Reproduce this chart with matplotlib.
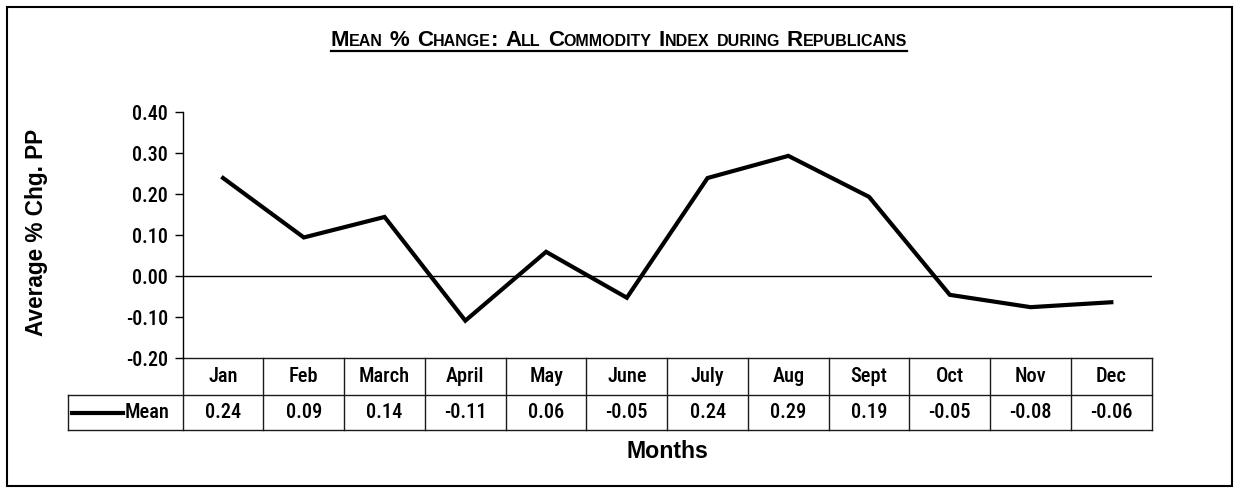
import matplotlib
matplotlib.use("Agg")
import matplotlib.pyplot as plt
import matplotlib.font_manager as fm
from matplotlib.lines import Line2D
from matplotlib.patches import Rectangle

months = ["Jan", "Feb", "March", "April", "May", "June", "July", "Aug", "Sept", "Oct", "Nov", "Dec"]
mean_values = [0.239, 0.094, 0.144, -0.109, 0.059, -0.053, 0.239, 0.293, 0.193, -0.046, -0.076, -0.064]
series_name = "Mean"
y_ticks = [-0.20, -0.10, 0.00, 0.10, 0.20, 0.30, 0.40]
title_text = "Mean % Change: All Commodity Index during Republicans"
y_label = "Average % Chg. PP"
x_label = "Months"

W, H = 1238, 491
DPI = 100
fig = plt.figure(figsize=(W / DPI, H / DPI), dpi=DPI)
renderer = fig.canvas.get_renderer()

# ---- pick a narrow sans font if one is installed ----
entries = fm.fontManager.ttflist
def is_cond(e):
    return (str(e.stretch) in ("condensed", "semi-condensed", "extra-condensed", "ultra-condensed")
            or "Narrow" in e.name or "Condensed" in e.name)
cond_names = {}
for e in entries:
    if is_cond(e):
        cond_names.setdefault(e.name, str(e.stretch))
narrow_family, narrow_stretch = "Liberation Sans", "normal"
for cand in ["Liberation Sans Narrow", "Arial Narrow", "Roboto Condensed", "Open Sans Condensed",
             "Noto Sans Condensed", "Noto Sans", "Open Sans", "DejaVu Sans"]:
    if cand in cond_names:
        narrow_family = cand
        narrow_stretch = "normal" if ("Narrow" in cand or "Condensed" in cand) else "condensed"
        break
NARROW = [narrow_family, "Liberation Sans", "DejaVu Sans"]
WIDE = ["Liberation Sans", "DejaVu Sans"]
# use a medium weight when the narrow family has one
weights = {e.weight for e in entries if e.name == narrow_family}
NW = 500 if any(str(w) in ("500", "medium") for w in weights) else "normal"


def text_width(text, size, family, weight="normal", stretch="normal"):
    t = fig.text(0, 0, text, fontsize=size, fontfamily=family, fontweight=weight, fontstretch=stretch)
    w = t.get_window_extent(renderer).width
    t.remove()
    return w


def capped_size(text, size, max_px, family, weight, stretch="normal"):
    w = text_width(text, size, family, weight, stretch)
    return size if w <= max_px else size * max_px / w


def fx(px):
    return px / W


def fy(py):
    return 1 - py / H


tick_fs = capped_size("0.30", 14.5, 36, NARROW, NW, narrow_stretch)
table_fs = capped_size("March", 15.5, 51, NARROW, NW, narrow_stretch)
ylab_fs = 10 * 209 / text_width(y_label, 10, WIDE, "bold")
xlab_fs = 10 * 82 / text_width(x_label, 10, WIDE, "bold")

# outer border
fig.add_artist(Rectangle((fx(7), fy(486)), fx(1232) - fx(7), fy(7) - fy(486),
                         transform=fig.transFigure, fill=False, lw=1.5, ec="black"))

# axes
ax_l, ax_r, ax_t, ax_b = 182.7, 1151.7, 112, 358
ax = fig.add_axes([fx(ax_l), fy(ax_b), fx(ax_r) - fx(ax_l), fy(ax_t) - fy(ax_b)])
ax.set_xlim(0, len(months))
ax.set_ylim(min(y_ticks), max(y_ticks))
ax.set_facecolor("none")
for s in ["top", "right", "bottom"]:
    ax.spines[s].set_visible(False)
ax.spines["left"].set_linewidth(1.0)
ax.set_xticks([])
ax.set_yticks(y_ticks)
ax.set_yticklabels([f"{v:.2f}" for v in y_ticks])
ax.tick_params(axis="y", direction="out", length=5.5, width=1.0, pad=5)
for lab in ax.get_yticklabels():
    lab.set_fontfamily(NARROW)
    lab.set_fontstretch(narrow_stretch)
    lab.set_fontweight(NW)
    lab.set_fontsize(tick_fs)

ax.axhline(0, color="black", lw=1.0)
xs = [i + 0.5 for i in range(len(months))]
ax.plot(xs, mean_values, color="black", lw=3.0, solid_joinstyle="miter")

# data table under the plot
tr = ax.get_xaxis_transform()
row1 = -37 / (ax_b - ax_t)
row2 = -72 / (ax_b - ax_t)
seg_scale = (ax_r - ax_l) / len(months)
leg_left = (67.7 - ax_l) / seg_scale
tcol = "#1a1a1a"
ax.add_line(Line2D([0, len(months)], [0, 0], transform=tr, color=tcol, lw=1.0, clip_on=False))
ax.add_line(Line2D([leg_left, len(months)], [row1, row1], transform=tr, color=tcol, lw=1.0, clip_on=False))
ax.add_line(Line2D([leg_left, len(months)], [row2, row2], transform=tr, color=tcol, lw=1.0, clip_on=False))
ax.add_line(Line2D([leg_left, leg_left], [row1, row2], transform=tr, color=tcol, lw=1.0, clip_on=False))
for k in range(len(months) + 1):
    ax.add_line(Line2D([k, k], [0, row2], transform=tr, color=tcol, lw=1.0, clip_on=False))

for x, m, v in zip(xs, months, mean_values):
    ax.text(x, row1 / 2, m, transform=tr, ha="center", va="center", fontweight=NW,
            fontfamily=NARROW, fontstretch=narrow_stretch, fontsize=table_fs)
    ax.text(x, (row1 + row2) / 2, f"{v:.2f}", transform=tr, ha="center", va="center",
            fontweight=NW, fontfamily=NARROW, fontstretch=narrow_stretch, fontsize=table_fs)

# legend key in table
ax.add_line(Line2D([(71.7 - ax_l) / seg_scale, (123.3 - ax_l) / seg_scale],
                   [(row1 + row2) / 2] * 2, transform=tr, color="black", lw=3.0, clip_on=False))
ax.text((124.5 - ax_l) / seg_scale, (row1 + row2) / 2, series_name, transform=tr,
        ha="left", va="center", fontweight=NW, fontfamily=NARROW, fontstretch=narrow_stretch,
        fontsize=table_fs)

# axis labels
fig.text(fx(37), fy(232), y_label, rotation=90, ha="center", va="center",
         fontfamily=WIDE, fontsize=ylab_fs, fontweight="bold")
fig.text(fx((ax_l + ax_r) / 2), fy(451), x_label, ha="center", va="center",
         fontfamily=WIDE, fontsize=xlab_fs, fontweight="bold")

# title in small caps, underlined
BIG, SMALL = 16.0, 11.5
runs = []
for ch in title_text:
    if ch == " ":
        size = "space"
        c = " "
    elif ch.isalpha() and ch.islower():
        size = SMALL
        c = ch.upper()
    else:
        size = BIG
        c = ch
    if runs and runs[-1][1] == size:
        runs[-1][0] += c
    else:
        runs.append([c, size])

pieces = []
cursor = 0.0
space_px = 7.0
for txt, size in runs:
    if size == "space":
        cursor += space_px * len(txt)
        continue
    t = fig.text(0, fy(46), txt, ha="left", va="baseline", fontsize=size,
                 fontweight="bold", fontfamily=WIDE)
    w = t.get_window_extent(renderer).width
    pieces.append((t, cursor))
    cursor += w
total = cursor
start = 619 - total / 2
for t, off in pieces:
    t.set_x(fx(start + off))
fig.add_artist(Line2D([fx(start), fx(start + total)], [fy(51), fy(51)],
                      transform=fig.transFigure, color="black", lw=1.6))

fig.savefig("out.png", dpi=DPI)
